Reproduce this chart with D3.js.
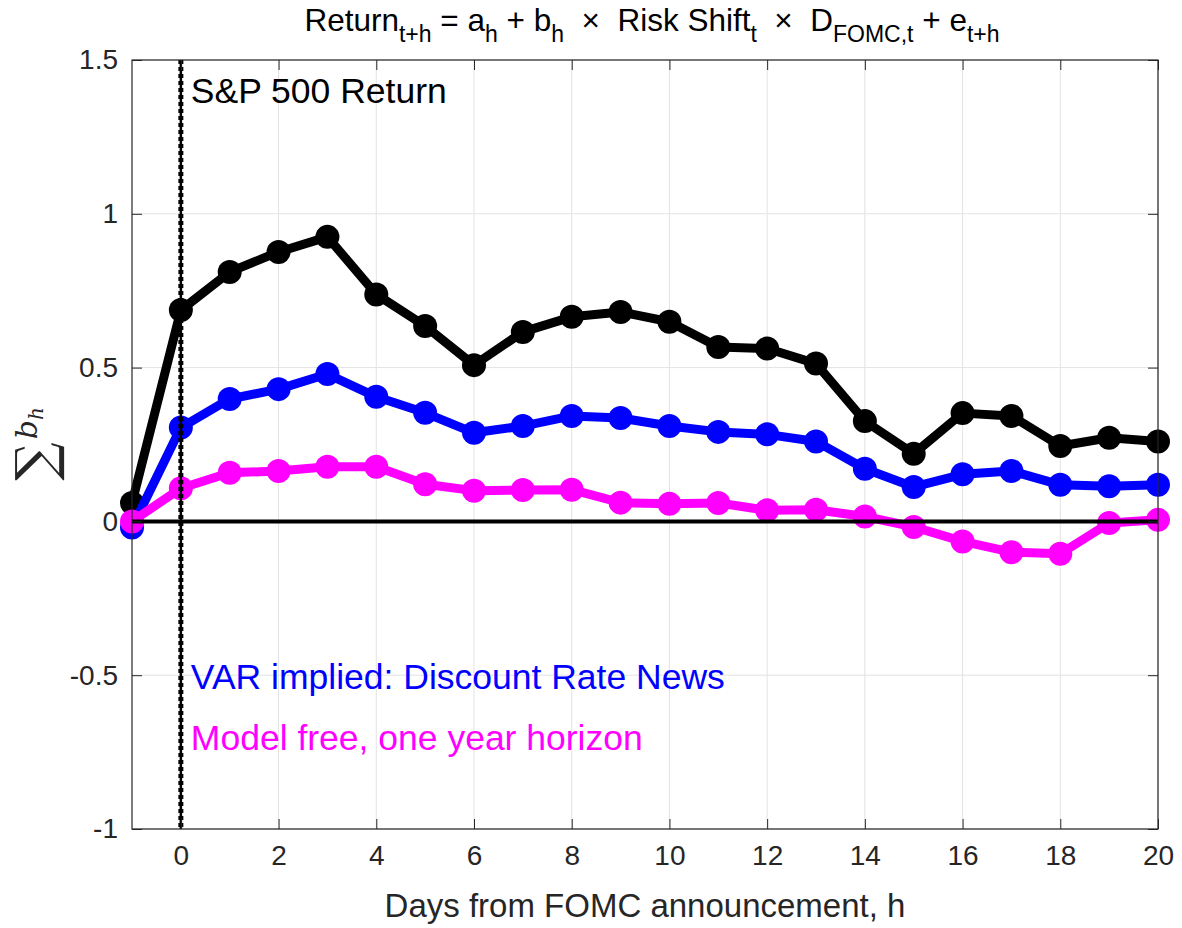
<!DOCTYPE html>
<html>
<head>
<meta charset="utf-8">
<script src="https://cdn.jsdelivr.net/npm/d3@7"></script>
<style>
  body { margin: 0; background: #fff; }
  svg { font-family: "Liberation Sans", Arial, sans-serif; }
</style>
</head>
<body>
<div id="chart"></div>
<script>
const width = 1182;
const height = 928;

// data
const days = [-1, 0, 1, 2, 3, 4, 5, 6, 7, 8, 9, 10, 11, 12, 13, 14, 15, 16, 17, 18, 19, 20];
const sp500 = [0.06, 0.687, 0.811, 0.876, 0.925, 0.738, 0.635, 0.508, 0.616, 0.665, 0.681, 0.649, 0.567, 0.562, 0.513, 0.326, 0.220, 0.352, 0.343, 0.245, 0.272, 0.260];
const varDR = [-0.02, 0.305, 0.398, 0.43, 0.479, 0.405, 0.353, 0.288, 0.31, 0.343, 0.336, 0.310, 0.291, 0.283, 0.260, 0.171, 0.112, 0.153, 0.164, 0.119, 0.114, 0.119];
const modelFree = [0, 0.108, 0.158, 0.164, 0.178, 0.178, 0.121, 0.1, 0.102, 0.103, 0.061, 0.057, 0.060, 0.036, 0.038, 0.016, -0.018, -0.065, -0.10, -0.105, -0.005, 0.005];
const xTicks = [0, 2, 4, 6, 8, 10, 12, 14, 16, 18, 20];
const yTicks = [-1, -0.5, 0, 0.5, 1, 1.5];
const yTickLabels = ['-1', '-0.5', '0', '0.5', '1', '1.5'];

const margin = { top: 60, right: 24, bottom: 99, left: 132 };
const area = {
    left: margin.left,
    right: width - margin.right,
    top: margin.top,
    bottom: height - margin.bottom
};

const svg = d3.select('#chart')
    .append('svg')
    .attr('width', width)
    .attr('height', height);

const xScale = d3.scaleLinear().domain([-1, 20]).range([area.left, area.right]);
const yScale = d3.scaleLinear().domain([-1, 1.5]).range([area.bottom, area.top]);

const axisColor = '#262626';

// gridlines
const grid = svg.append('g').attr('class', 'grid');
grid.selectAll('line.gx')
    .data(xTicks)
    .join('line')
    .attr('class', 'gx')
    .attr('x1', d => xScale(d)).attr('x2', d => xScale(d))
    .attr('y1', area.top).attr('y2', area.bottom)
    .attr('stroke', '#e3e3e3').attr('stroke-width', 1);
grid.selectAll('line.gy')
    .data(yTicks)
    .join('line')
    .attr('class', 'gy')
    .attr('y1', d => yScale(d)).attr('y2', d => yScale(d))
    .attr('x1', area.left).attr('x2', area.right)
    .attr('stroke', '#e3e3e3').attr('stroke-width', 1);

// series
const series = [
    { name: 'sp500', values: sp500, color: '#000000' },
    { name: 'var', values: varDR, color: '#0000ff' },
    { name: 'modelFree', values: modelFree, color: '#ff00ff' }
];

const line = d3.line()
    .x(d => xScale(d[0]))
    .y(d => yScale(d[1]));

series.forEach(s => {
    const pts = days.map((d, i) => [d, s.values[i]]);
    const g = svg.append('g').attr('class', s.name);
    g.append('path')
        .datum(pts)
        .attr('d', line)
        .attr('fill', 'none')
        .attr('stroke', s.color)
        .attr('stroke-width', 9)
        .attr('stroke-linejoin', 'round');
    g.selectAll('circle')
        .data(pts)
        .join('circle')
        .attr('cx', d => xScale(d[0]))
        .attr('cy', d => yScale(d[1]))
        .attr('r', 12)
        .attr('fill', s.color);
});

// zero line
svg.append('line')
    .attr('x1', xScale(-1)).attr('x2', xScale(20))
    .attr('y1', yScale(0)).attr('y2', yScale(0))
    .attr('stroke', '#000').attr('stroke-width', 4);

// announcement day marker
svg.append('line')
    .attr('x1', xScale(0)).attr('x2', xScale(0))
    .attr('y1', area.top).attr('y2', area.bottom)
    .attr('stroke', '#000').attr('stroke-width', 2.5);
svg.append('line')
    .attr('x1', xScale(0)).attr('x2', xScale(0))
    .attr('y1', area.top).attr('y2', area.bottom)
    .attr('stroke', '#000').attr('stroke-width', 5)
    .attr('stroke-dasharray', '4,3');

// axes (MATLAB style box with inward ticks)
const tickLen = 10;
svg.append('g')
    .attr('transform', `translate(0,${area.bottom})`)
    .call(d3.axisBottom(xScale).tickValues(xTicks).tickSize(-tickLen).tickPadding(16).tickSizeOuter(0))
    .call(g => g.select('.domain').remove());
svg.append('g')
    .attr('transform', `translate(0,${area.top})`)
    .call(d3.axisTop(xScale).tickValues(xTicks).tickSize(-tickLen).tickFormat('').tickSizeOuter(0))
    .call(g => g.select('.domain').remove());
svg.append('g')
    .attr('transform', `translate(${area.left},0)`)
    .call(d3.axisLeft(yScale).tickValues(yTicks).tickSize(-tickLen).tickPadding(14)
        .tickFormat((d, i) => yTickLabels[i]).tickSizeOuter(0))
    .call(g => g.select('.domain').remove());
svg.append('g')
    .attr('transform', `translate(${area.right},0)`)
    .call(d3.axisRight(yScale).tickValues(yTicks).tickSize(-tickLen).tickFormat('').tickSizeOuter(0))
    .call(g => g.select('.domain').remove());

svg.selectAll('.tick line').attr('stroke', axisColor);
svg.selectAll('.tick text')
    .attr('fill', axisColor)
    .style('font-size', '28px')
    .style('font-family', '"Liberation Sans", Arial, sans-serif');

svg.append('rect')
    .attr('x', area.left).attr('y', area.top)
    .attr('width', area.right - area.left)
    .attr('height', area.bottom - area.top)
    .attr('fill', 'none')
    .attr('stroke', axisColor)
    .attr('stroke-width', 1.2);

// labels inside the plot
const notes = [
    { text: 'S&P 500 Return', y: 103, color: '#000000' },
    { text: 'VAR implied: Discount Rate News', y: 689, color: '#0000ff' },
    { text: 'Model free, one year horizon', y: 750, color: '#ff00ff' }
];
svg.selectAll('text.note')
    .data(notes)
    .join('text')
    .attr('class', 'note')
    .attr('x', xScale(0) + 10)
    .attr('y', d => d.y)
    .attr('fill', d => d.color)
    .style('font-size', '35.5px')
    .text(d => d.text);

// x label
svg.append('text')
    .attr('x', (area.left + area.right) / 2)
    .attr('y', 917)
    .attr('text-anchor', 'middle')
    .attr('fill', axisColor)
    .style('font-size', '33px')
    .text('Days from FOMC announcement, h');

// y label: sum of b_h
const yl = svg.append('g').attr('transform', 'translate(54,444) rotate(-90)');
const ylt = yl.append('text')
    .attr('text-anchor', 'middle')
    .attr('fill', axisColor)
    .style('font-family', '"DejaVu Serif", "Liberation Serif", serif');
ylt.append('tspan').style('font-size', '54px').text('∑');
ylt.append('tspan').attr('dy', -17).attr('dx', 3).style('font-size', '30px').style('font-style', 'italic').text('b');
ylt.append('tspan').attr('dy', 6).style('font-size', '20px').style('font-style', 'italic').text('h');

// title with subscripts, laid out left to right then centred
const titleBase = 31;
const subShift = 11;
const nb = '\u00a0';
const title = svg.append('text')
    .attr('x', 0)
    .attr('y', titleBase)
    .attr('fill', '#000')
    .style('font-size', '31.5px');
const titleParts = [
    ['Return', 't+h'], [nb + '=' + nb + 'a', 'h'], [nb + '+' + nb + 'b', 'h'],
    [nb + nb + '×' + nb + nb + 'Risk Shift', 't'],
    [nb + nb + '×' + nb + nb + 'D', 'FOMC,t'], [nb + '+' + nb + 'e', 't+h']
];
titleParts.forEach(([main, sub], i) => {
    title.append('tspan').attr('dy', i === 0 ? 0 : -subShift).text(main);
    title.append('tspan').attr('dy', subShift).style('font-size', '23px').text(sub);
});
const tw = title.node().getComputedTextLength();
title.attr('x', 652 - tw / 2);
</script>
</body>
</html>
